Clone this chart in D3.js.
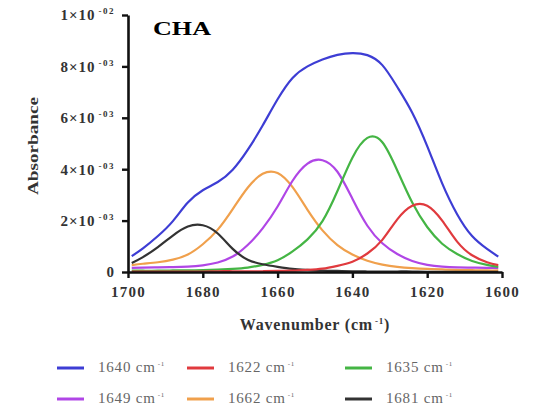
<!DOCTYPE html>
<html>
<head>
<meta charset="utf-8">
<script src="https://cdn.jsdelivr.net/npm/d3@7"></script>
<style>
  body { margin: 0; background: #fff; }
  svg { display: block; }
</style>
</head>
<body>
<svg width="538" height="411"></svg>
<script>
// wavenumbers (cm-1) the fitted bands were read at
var wavenumbers = [1699, 1696, 1692, 1688, 1684, 1680, 1676, 1672, 1668, 1664, 1660, 1656, 1652,
                   1648, 1644, 1640, 1636, 1632, 1628, 1624, 1620, 1616, 1612, 1608, 1604, 1601];

// absorbance, in units of 1e-3
var band1640 = [0.62, 0.92, 1.40, 1.98, 2.70, 3.18, 3.50, 3.98, 4.75, 5.70, 6.72, 7.55, 8.00,
                8.27, 8.45, 8.52, 8.44, 8.05, 7.20, 6.20, 4.90, 3.45, 2.25, 1.40, 0.90, 0.60];
var band1622 = [0.02, 0.02, 0.02, 0.02, 0.02, 0.02, 0.03, 0.03, 0.03, 0.03, 0.04, 0.05, 0.08,
                0.13, 0.24, 0.40, 0.72, 1.25, 2.05, 2.58, 2.58, 2.00, 1.18, 0.65, 0.38, 0.27];
var band1635 = [0.05, 0.05, 0.05, 0.06, 0.06, 0.07, 0.09, 0.12, 0.17, 0.28, 0.46, 0.80, 1.27,
                1.98, 3.15, 4.45, 5.22, 5.05, 3.95, 2.70, 1.75, 1.10, 0.70, 0.43, 0.28, 0.20];
var band1649 = [0.16, 0.17, 0.18, 0.19, 0.21, 0.26, 0.37, 0.60, 1.05, 1.70, 2.55, 3.55, 4.22,
                4.35, 3.90, 2.85, 1.80, 1.12, 0.70, 0.43, 0.28, 0.21, 0.18, 0.17, 0.16, 0.16];
var band1662 = [0.27, 0.32, 0.38, 0.48, 0.68, 1.08, 1.65, 2.45, 3.28, 3.82, 3.85, 3.30, 2.42,
                1.62, 1.05, 0.68, 0.44, 0.29, 0.20, 0.15, 0.12, 0.10, 0.08, 0.07, 0.06, 0.06];
var band1681 = [0.35, 0.58, 0.97, 1.42, 1.77, 1.82, 1.50, 0.90, 0.48, 0.30, 0.20, 0.12, 0.08,
                0.05, 0.04, 0.03, 0.02, 0.02, 0.02, 0.02, 0.01, 0.01, 0.01, 0.01, 0.01, 0.01];

var legendLabels = ['1640', '1622', '1635', '1649', '1662', '1681'];
var xTicks = [1700, 1680, 1660, 1640, 1620, 1600];
var yTicks = [0, 2, 4, 6, 8, 10];
var yTickText = ['0', '2×10', '4×10', '6×10', '8×10', '1×10'];
var yTickExp = ['', '-03', '-03', '-03', '-03', '-02'];

var series = [
    { name: legendLabels[0], values: band1640, color: '#3d3dd4' },
    { name: legendLabels[1], values: band1622, color: '#e03a3e' },
    { name: legendLabels[2], values: band1635, color: '#44b544' },
    { name: legendLabels[3], values: band1649, color: '#b046e6' },
    { name: legendLabels[4], values: band1662, color: '#f0a04c' },
    { name: legendLabels[5], values: band1681, color: '#333333' }
];

var svg = d3.select('svg');
var serif = '"Liberation Serif", "DejaVu Serif", serif';

// scales: wavenumber runs high to low
var x = d3.scaleLinear().domain([1700, 1600]).range([128, 502]);
var y = d3.scaleLinear().domain([0, 10]).range([272, 15]);

// curves, drawn so the baseline-hugging red band sits on top
var line = d3.line()
    .x(function (d) { return x(d[0]); })
    .y(function (d) { return y(d[1]); })
    .curve(d3.curveNatural);

var drawOrder = [0, 4, 3, 2, 5, 1];
drawOrder.forEach(function (i) {
    var s = series[i];
    svg.append('path')
        .datum(wavenumbers.map(function (w, j) { return [w, s.values[j]]; }))
        .attr('d', line)
        .attr('fill', 'none')
        .attr('stroke', s.color)
        .attr('stroke-width', 2.2)
        .attr('stroke-linejoin', 'round');
});

// x axis
var xAxis = svg.append('g')
    .attr('transform', 'translate(0,272)')
    .call(d3.axisBottom(x).tickValues(xTicks).tickFormat(d3.format('d')).tickSize(6).tickSizeOuter(0));

// y axis
var yAxis = svg.append('g')
    .attr('transform', 'translate(128,0)')
    .call(d3.axisLeft(y).tickValues(yTicks).tickSize(6).tickSizeOuter(0));

[xAxis, yAxis].forEach(function (g) {
    g.select('.domain').attr('stroke', '#111').attr('stroke-width', 2.6);
    g.selectAll('.tick line').attr('stroke', '#111').attr('stroke-width', 2.4);
});

xAxis.selectAll('.tick text')
    .attr('y', 14)
    .attr('fill', '#333')
    .style('font-family', serif)
    .style('font-weight', 'bold')
    .style('font-size', '15px')
    .style('letter-spacing', '1.3px');

// y tick labels with superscript exponents
yAxis.selectAll('.tick text')
    .text(null)
    .attr('x', -13)
    .attr('fill', '#333')
    .style('font-family', serif)
    .style('font-weight', 'bold')
    .style('font-size', '15px')
    .style('letter-spacing', '1px')
    .each(function (d, i) {
        var t = d3.select(this);
        t.append('tspan').text(yTickText[i]);
        if (yTickExp[i]) {
            t.append('tspan')
                .attr('dx', 3)
                .attr('dy', -6)
                .style('font-size', '9px')
                .style('letter-spacing', '1.5px')
                .text(yTickExp[i]);
        }
    });

// title
svg.append('text')
    .attr('x', 153)
    .attr('y', 35)
    .attr('textLength', 58)
    .attr('lengthAdjust', 'spacingAndGlyphs')
    .style('font-family', serif)
    .style('font-weight', 'bold')
    .style('font-size', '19px')
    .text('CHA');

// axis titles
svg.append('text')
    .attr('transform', 'translate(38,146) rotate(-90)')
    .attr('text-anchor', 'middle')
    .attr('fill', '#333')
    .attr('textLength', 98)
    .attr('lengthAdjust', 'spacingAndGlyphs')
    .style('font-family', serif)
    .style('font-weight', 'bold')
    .style('font-size', '14px')
    .text('Absorbance');

var xTitle = svg.append('text')
    .attr('x', 315)
    .attr('y', 330)
    .attr('text-anchor', 'middle')
    .attr('fill', '#333')
    .style('font-family', serif)
    .style('font-weight', 'bold')
    .style('font-size', '16px')
    .style('letter-spacing', '0.8px');
xTitle.append('tspan').text('Wavenumber (cm');
xTitle.append('tspan').attr('dx', 2).attr('dy', -6).style('font-size', '9px').text('-1');
xTitle.append('tspan').attr('dy', 6).text(')');

// legend, three columns by two rows
var legendX = [57, 187, 345];
var legendY = [368, 399];
series.forEach(function (s, i) {
    var col = i % 3, row = Math.floor(i / 3);
    var g = svg.append('g')
        .attr('transform', 'translate(' + legendX[col] + ',' + legendY[row] + ')');
    g.append('line')
        .attr('x1', 0).attr('x2', 27)
        .attr('stroke', s.color)
        .attr('stroke-width', 3);
    var t = g.append('text')
        .attr('x', 41)
        .attr('y', 4)
        .attr('fill', '#666')
        .style('font-family', serif)
        .style('font-size', '15px')
        .style('letter-spacing', '0.8px');
    t.append('tspan').text(s.name + ' cm');
    t.append('tspan').attr('dx', 2).attr('dy', -6).style('font-size', '7px').text('-1');
});
</script>
</body>
</html>
